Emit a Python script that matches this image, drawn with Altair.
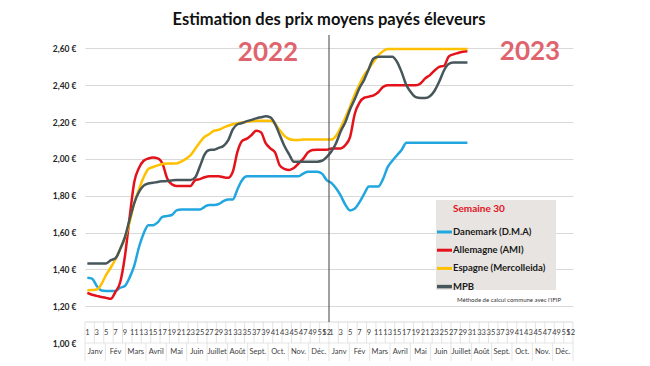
import altair as alt
import pandas as pd

FONT = "Lato"

series_names = ["Danemark (D.M.A)", "Allemagne (AMI)", "Espagne (Mercolleida)", "MPB"]
series_colors = ["#21a6df", "#e3121b", "#ffc000", "#46565a"]
series_widths = [2.5, 2.5, 2.0, 3.5]

# weekly prices (EUR/kg), 2022 weeks 1-52 then 2023 weeks 1-30
danemark_2022 = [
    1.355, 1.35, 1.31, 1.285, 1.283, 1.283, 1.283, 1.30, 1.31, 1.355,
    1.42, 1.52, 1.595, 1.64, 1.64, 1.655, 1.685, 1.69, 1.695, 1.72,
    1.725, 1.725, 1.725, 1.725, 1.725, 1.74, 1.75, 1.75, 1.755, 1.77,
    1.78, 1.78, 1.835, 1.885, 1.905, 1.905, 1.905, 1.905, 1.905, 1.905,
    1.905, 1.905, 1.905, 1.905, 1.905, 1.905, 1.92, 1.93, 1.93, 1.93,
    1.92, 1.885]
danemark_2023 = [
    1.87, 1.84, 1.80, 1.75, 1.72, 1.73, 1.765, 1.81, 1.85, 1.85,
    1.85, 1.89, 1.955, 1.99, 2.02, 2.05, 2.088, 2.088, 2.088, 2.088,
    2.088, 2.088, 2.088, 2.088, 2.088, 2.088, 2.088, 2.088, 2.088, 2.088]

allemagne_2022 = [
    1.272, 1.262, 1.256, 1.25, 1.245, 1.24, 1.278, 1.33, 1.47, 1.68,
    1.875, 1.95, 1.99, 2.002, 2.008, 2.003, 1.975, 1.895, 1.862, 1.853,
    1.853, 1.853, 1.853, 1.885, 1.89, 1.90, 1.906, 1.906, 1.906, 1.90,
    1.897, 1.93, 2.04, 2.098, 2.11, 2.13, 2.153, 2.145, 2.085, 2.057,
    2.035, 1.965, 1.946, 1.94, 1.95, 1.975, 2.0, 2.035, 2.048, 2.05,
    2.05, 2.05]
allemagne_2023 = [
    2.057, 2.057, 2.057, 2.075, 2.12, 2.245, 2.305, 2.332, 2.338, 2.345,
    2.362, 2.39, 2.40, 2.40, 2.40, 2.40, 2.40, 2.40, 2.40, 2.41,
    2.437, 2.455, 2.48, 2.50, 2.505, 2.555, 2.568, 2.575, 2.582, 2.585]

espagne_2022 = [
    1.287, 1.288, 1.29, 1.32, 1.37, 1.41, 1.455, 1.51, 1.57, 1.655,
    1.76, 1.835, 1.90, 1.945, 1.956, 1.965, 1.972, 1.975, 1.975, 1.975,
    1.985, 2.0, 2.02, 2.055, 2.09, 2.12, 2.135, 2.153, 2.158, 2.17,
    2.18, 2.188, 2.194, 2.198, 2.202, 2.205, 2.207, 2.207, 2.207, 2.207,
    2.19, 2.155, 2.125, 2.108, 2.103, 2.102, 2.105, 2.105, 2.105, 2.105,
    2.105, 2.105]
espagne_2023 = [
    2.105, 2.125, 2.17, 2.225, 2.285, 2.35, 2.405, 2.455, 2.49, 2.528,
    2.562, 2.585, 2.597, 2.597, 2.597, 2.597, 2.597, 2.597, 2.597, 2.597,
    2.597, 2.597, 2.597, 2.597, 2.597, 2.597, 2.597, 2.597, 2.597, 2.597]

mpb_2022 = [
    1.432, 1.432, 1.432, 1.432, 1.432, 1.45, 1.46, 1.51, 1.575, 1.67,
    1.76, 1.82, 1.855, 1.866, 1.87, 1.875, 1.878, 1.88, 1.883, 1.885,
    1.885, 1.885, 1.885, 1.90, 1.96, 2.025, 2.048, 2.05, 2.06, 2.07,
    2.10, 2.16, 2.188, 2.195, 2.205, 2.212, 2.22, 2.226, 2.231, 2.225,
    2.19, 2.13, 2.07, 2.025, 1.985, 1.985, 1.985, 1.985, 1.985, 1.985,
    1.99, 2.01]
mpb_2023 = [
    2.04, 2.085, 2.15, 2.20, 2.27, 2.325, 2.385, 2.43, 2.49, 2.545,
    2.555, 2.555, 2.555, 2.555, 2.527, 2.47, 2.40, 2.36, 2.335, 2.33,
    2.33, 2.34, 2.37, 2.42, 2.48, 2.515, 2.524, 2.524, 2.524, 2.524]

y_ticks = [1.0, 1.2, 1.4, 1.6, 1.8, 2.0, 2.2, 2.4, 2.6]
month_names = ["Janv", "Fév", "Mars", "Avril", "Mai", "Juin", "Juillet",
               "Août", "Sept.", "Oct.", "Nov.", "Déc."]
years = ["2022", "2023"]
weeks_per_year = 52

# ---------------------------------------------------------------- tables
rows = []
for name, a, b in zip(series_names,
                      [danemark_2022, allemagne_2022, espagne_2022, mpb_2022],
                      [danemark_2023, allemagne_2023, espagne_2023, mpb_2023]):
    for i, v in enumerate(a + b, start=1):
        rows.append({"idx": i, "series": name, "value": v})
df = pd.DataFrame(rows)

n_cat = 2 * weeks_per_year
week_lab = []
for i in list(range(1, n_cat + 1, 2)) + [weeks_per_year, n_cat]:
    week_lab.append({"idx": i, "txt": str((i - 1) % weeks_per_year + 1)})
df_week = pd.DataFrame(week_lab)
df_week_sep = pd.DataFrame({"idx": [i + 0.5 for i in range(0, n_cat + 1, 2)]})

month_rows, month_sep = [], []
for y in range(2):
    for m, mn in enumerate(month_names):
        month_rows.append({"idx": y * weeks_per_year + (m + 0.5) * weeks_per_year / 12 + 0.5,
                           "txt": mn})
        month_sep.append({"idx": y * weeks_per_year + m * weeks_per_year / 12 + 0.5})
month_sep.append({"idx": n_cat + 0.5})
df_month = pd.DataFrame(month_rows)
df_month_sep = pd.DataFrame(month_sep)

# ---------------------------------------------------------------- scales
x_scale = alt.Scale(domain=[0.5, n_cat + 0.5], nice=False, zero=False)
y_scale = alt.Scale(domain=[1.0, 2.7], nice=False, zero=False)

W, H = 488, 313

lines = alt.Chart(df).mark_line(interpolate="monotone").encode(
    x=alt.X("idx:Q", scale=x_scale, axis=None),
    y=alt.Y("value:Q", scale=y_scale, title=None,
            axis=alt.Axis(values=y_ticks,
                          labelExpr="replace(format(datum.value, '.2f'), '.', ',') + ' €'",
                          labelFont=FONT, labelFontWeight="bold", labelFontSize=8.5,
                          labelColor="#262626", ticks=False, domain=False,
                          labelPadding=9, grid=True, gridColor="#d9d9d9",
                          gridWidth=1,
                          gridOpacity={"condition": {"test": "datum.value < 1.1", "value": 0},
                                       "value": 1})),
    color=alt.Color("series:N", scale=alt.Scale(domain=series_names, range=series_colors),
                    legend=None),
    strokeWidth=alt.StrokeWidth("series:N",
                                scale=alt.Scale(domain=series_names, range=series_widths),
                                legend=None),
)

year_rule = alt.Chart(pd.DataFrame({"idx": [weeks_per_year + 0.5]})).mark_rule(
    color="#404040", strokeWidth=1).encode(
    x=alt.X("idx:Q", scale=x_scale), y=alt.value(5), y2=alt.value(292))

axis_line = alt.Chart(pd.DataFrame({"a": [0.5], "b": [n_cat + 0.5]})).mark_rule(
    color="#d9d9d9", strokeWidth=1).encode(
    x=alt.X("a:Q", scale=x_scale), x2="b:Q", y=alt.value(292))

axis_line2 = alt.Chart(pd.DataFrame({"a": [0.5], "b": [n_cat + 0.5]})).mark_rule(
    color="#e6e6e6", strokeWidth=1).encode(
    x=alt.X("a:Q", scale=x_scale), x2="b:Q", y=alt.value(313))

week_sep = alt.Chart(df_week_sep).mark_rule(color="#d9d9d9", strokeWidth=0.7).encode(
    x=alt.X("idx:Q", scale=x_scale), y=alt.value(292), y2=alt.value(313))

month_sepl = alt.Chart(df_month_sep).mark_rule(color="#d9d9d9", strokeWidth=0.7).encode(
    x=alt.X("idx:Q", scale=x_scale), y=alt.value(313), y2=alt.value(331))

week_text = alt.Chart(df_week).mark_text(
    font=FONT, fontSize=7.5, color="#404040", baseline="middle", align="center").encode(
    x=alt.X("idx:Q", scale=x_scale), y=alt.value(303), text="txt:N")

month_text = alt.Chart(df_month).mark_text(
    font=FONT, fontSize=7.5, color="#404040", baseline="middle", align="center").encode(
    x=alt.X("idx:Q", scale=x_scale), y=alt.value(322), text="txt:N")

year_texts = []
for txt, px, py in zip(years, [183, 445], [23, 22]):
    year_texts.append(
        alt.Chart(pd.DataFrame({"t": [txt]})).mark_text(
            font=FONT, fontSize=26, fontWeight="bold", color="#e0646e",
            align="center", baseline="middle").encode(
            text="t:N", x=alt.value(px), y=alt.value(py)))

# --------------------------------------------------------------- legend
legend_layers = [
    alt.Chart(pd.DataFrame({"a": [0]})).mark_rect(color="#e7e4e1").encode(
        x=alt.value(351), x2=alt.value(471), y=alt.value(170), y2=alt.value(260)),
    alt.Chart(pd.DataFrame({"t": ["Semaine 30"]})).mark_text(
        font=FONT, fontSize=10, fontWeight="bold", color="#e3121b",
        align="left", baseline="middle").encode(
        text="t:N", x=alt.value(368), y=alt.value(179)),
]
for k, (name, col) in enumerate(zip(series_names, series_colors)):
    yy = 202 + k * 18.2
    legend_layers.append(
        alt.Chart(pd.DataFrame({"a": [0]})).mark_rule(
            color=col, strokeWidth=3 if k < 3 else 3.5).encode(
            x=alt.value(352), x2=alt.value(367), y=alt.value(yy)))
    legend_layers.append(
        alt.Chart(pd.DataFrame({"t": [name]})).mark_text(
            font=FONT, fontSize=9.5, fontWeight="bold", color="#1a1a1a",
            align="left", baseline="middle").encode(
            text="t:N", x=alt.value(368), y=alt.value(yy)))

footnote = alt.Chart(pd.DataFrame({"t": ["Méthode de calcul commune avec l'IFIP"]})).mark_text(
    font=FONT, fontSize=6, color="#333333", align="left", baseline="middle").encode(
    text="t:N", x=alt.value(372), y=alt.value(270))

chart = alt.layer(
    lines, axis_line, axis_line2, week_sep, month_sepl, week_text, month_text,
    year_rule, *year_texts, *legend_layers, footnote,
).properties(
    width=W, height=H,
    title=alt.TitleParams("Estimation des prix moyens payés éleveurs",
                          font=FONT, fontSize=16.5, fontWeight="bold", color="#111111",
                          anchor="middle", offset=2),
    autosize=alt.AutoSizeParams(type="none"),
    padding={"left": 77, "top": 22, "right": 60, "bottom": 22},
).configure_view(stroke=None)

chart.save("out.html", embed_options={"renderer": "svg", "actions": False})
